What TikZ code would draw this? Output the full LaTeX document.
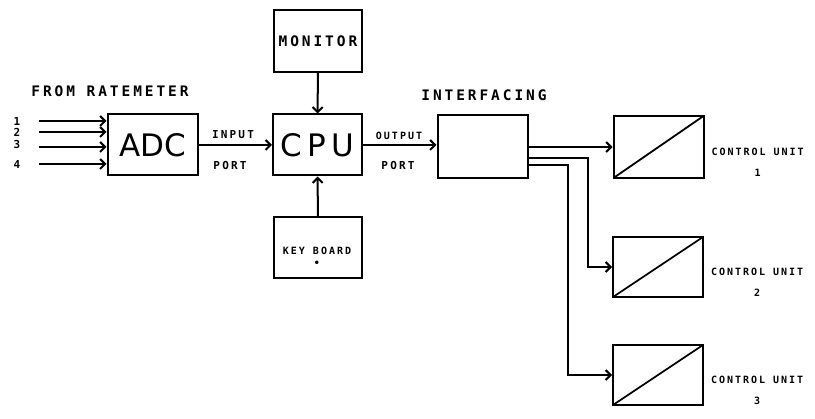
\documentclass[tikz,border=0pt]{standalone}
\usepackage{fontspec}
\usepackage{tikz}
\usetikzlibrary{arrows.meta,positioning}
\newfontfamily\plotfont[LetterSpace=20]{DejaVu Sans Mono}
\newfontfamily\boxfont{DejaVu Sans}

\begin{document}
\begin{tikzpicture}[x=1pt, y=-1pt, line width=2pt,
        >={Straight Barb[length=5pt,width=10pt]},
        blk/.style={draw, minimum width=90pt, minimum height=61pt, inner sep=0pt},
        cubox/.style={blk, path picture={\draw[line width=1.8pt] (path picture bounding box.south west) -- (path picture bounding box.north east);}},
        biglbl/.style={font=\plotfont\bfseries\fontsize{14.5}{16}\selectfont, inner sep=0pt},
        smalllbl/.style={font=\plotfont\bfseries\fontsize{11}{12}\selectfont, inner sep=0pt, align=center},
        tinylbl/.style={font=\plotfont\bfseries\fontsize{10}{11}\selectfont, inner sep=0pt, align=center}]
        \useasboundingbox[fill=white] (0,0) rectangle (815,419);

        % main chain
        \node[blk, font=\boxfont\fontsize{31}{33}\selectfont] (adc) at (152.5,145) {ADC};
        \node[blk, minimum width=89pt, font=\boxfont\fontsize{31}{33}\selectfont] (cpu) at (317.5,145) {C\kern5pt P\kern5pt U};
        \node[blk, minimum width=88pt, minimum height=62pt] (mon) at (318,41) {};
        \node[biglbl] at (mon) {MONITOR};
        \node[blk, minimum width=88pt] (kbd) at (318,247.5) {};
        \node[tinylbl] at (317,257) {KEY BOARD\\[1pt]\textbullet};
        \node[blk, minimum height=63pt] (intf) at (482.5,146.5) {};

        % control units
        \node[cubox, minimum height=62pt] (cu1) at (658.5,147) {};
        \node[cubox, minimum height=60pt] (cu2) at (658,267) {};
        \node[cubox, minimum height=60pt] (cu3) at (658,375) {};
        \node[tinylbl, right=6pt of cu1, yshift=-15pt] (lbl1) {CONTROL UNIT\\[10pt]1};
        \node[tinylbl, right=6pt of cu2, yshift=-15pt] (lbl2) {CONTROL UNIT\\[10pt]2};
        \node[tinylbl, right=6pt of cu3, yshift=-15pt] (lbl3) {CONTROL UNIT\\[10pt]3};

        % inputs from ratemeter
        \node[biglbl] (from) at (110,91) {FROM RATEMETER};
        \coordinate (in1) at (39,121);
        \coordinate (in2) at (39,132);
        \coordinate (in3) at (39,147);
        \coordinate (in4) at (39,164);
        \node[smalllbl] (n1) at (17,121) {1};
        \node[smalllbl] (n2) at (17,132) {2};
        \node[smalllbl] (n3) at (17,144) {3};
        \node[smalllbl] (n4) at (17,164) {4};
        \foreach \i in {1,2,3,4}
            \draw[->] (in\i) -- (adc.west |- in\i);

        \draw[->] (adc.east) -- (cpu.west);
        \node[smalllbl] at (233,135) {INPUT};
        \node[smalllbl] at (230,165) {PORT};
        \draw[->] (mon) -- (cpu);
        \draw[->] (kbd) -- (cpu);
        \draw[->] (cpu.east) -- (intf.west |- cpu.east);
        \node[tinylbl] at (399,136) {OUTPUT};
        \node[smalllbl] at (398,165) {PORT};
        \node[biglbl] at (484,95) {INTERFACING};

        % interfacing outputs
        \coordinate (o2) at (intf.east |- 0,158);
        \coordinate (o3) at (intf.east |- 0,165);
        \draw[->] (intf.east |- cu1.west) -- (cu1.west);
        \draw[->] (o2) -| (588,0 |- cu2.west) -- (cu2.west);
        \draw[->] (o3) -| (568,0 |- cu3.west) -- (cu3.west);
    \end{tikzpicture}
\end{document}
